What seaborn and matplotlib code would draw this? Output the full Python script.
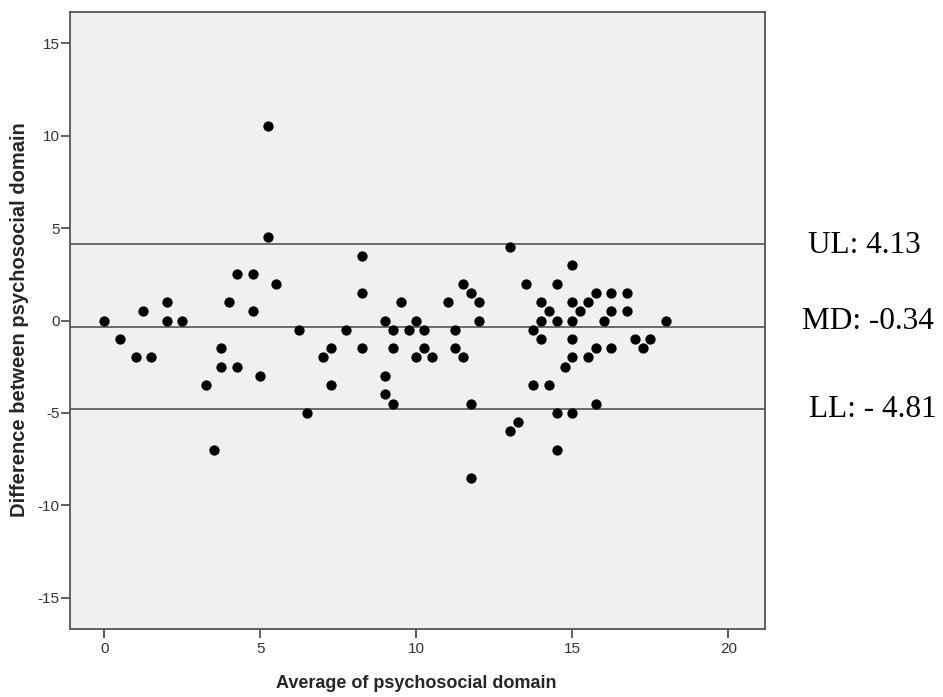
import matplotlib
matplotlib.use("Agg")
import matplotlib.pyplot as plt
import seaborn as sns
import pandas as pd

# Bland-Altman data: average vs difference of psychosocial domain
avg = [0, 0.5, 1, 1.25, 1.5, 2, 2, 2.5, 3.25, 3.5, 3.75, 3.75, 4, 4.25, 4.25,
       4.75, 4.75, 5, 5.25, 5.25, 5.5, 6.25, 6.5, 7, 7.25, 7.25, 7.75, 8.25,
       8.25, 8.25, 9, 9, 9, 9.25, 9.25, 9.25, 9.5, 9.75, 10, 10, 10.25, 10.25,
       10.5, 11, 11.25, 11.25, 11.5, 11.5, 11.75, 11.75, 11.75, 12, 12, 13, 13,
       13.25, 13.5, 13.75, 13.75, 14, 14, 14, 14.25, 14.25, 14.5, 14.5, 14.5,
       14.5, 14.75, 15, 15, 15, 15, 15, 15, 15.25, 15.5, 15.5, 15.75, 15.75,
       15.75, 16, 16.25, 16.25, 16.25, 16.75, 16.75, 17, 17.25, 17.5, 18]
diff = [0, -1, -2, 0.5, -2, 1, 0, 0, -3.5, -7, -1.5, -2.5, 1, 2.5, -2.5,
        2.5, 0.5, -3, 10.5, 4.5, 2, -0.5, -5, -2, -1.5, -3.5, -0.5, 3.5,
        1.5, -1.5, 0, -3, -4, -0.5, -1.5, -4.5, 1, -0.5, 0, -2, -0.5, -1.5,
        -2, 1, -0.5, -1.5, 2, -2, 1.5, -4.5, -8.5, 1, 0, 4, -6,
        -5.5, 2, -0.5, -3.5, 1, 0, -1, 0.5, -3.5, 2, 0, -5,
        -7, -2.5, 3, 1, 0, -1, -2, -5, 0.5, 1, -2, 1.5, -1.5,
        -4.5, 0, 1.5, 0.5, -1.5, 1.5, 0.5, -1, -1.5, -1, 0]

limit_values = [4.13, -0.34, -4.81]
limit_labels = ["UL: 4.13", "MD: -0.34", "LL: - 4.81"]
x_ticks = [0, 5, 10, 15, 20]
y_ticks = [-15, -10, -5, 0, 5, 10, 15]

df = pd.DataFrame({"avg": avg, "diff": diff})

sns.set_style("ticks")
plt.rcParams['font.family'] = ['Liberation Sans Narrow', 'Liberation Sans', 'DejaVu Sans']
plt.rcParams['axes.unicode_minus'] = False

fig = plt.figure(figsize=(9.43, 6.97), dpi=100)
# axes box: x 70..765 px, y 12..629 px
ax = fig.add_axes([70 / 943, 68 / 697, 695 / 943, 617 / 697])
ax.set_facecolor("#f0f0f0")

sns.scatterplot(data=df, x="avg", y="diff", color="black", s=55,
                edgecolor="black", linewidth=0, ax=ax, zorder=3)

for v in limit_values:
    ax.axhline(v, color="#606060", linewidth=1.3, zorder=2)

ax.set_xlim(-1.1, 21.17)
ax.set_ylim(-16.68, 16.68)
ax.set_xticks(x_ticks)
ax.set_yticks(y_ticks)
ax.tick_params(axis="both", length=6.5, width=1.2, color="#444444",
               labelsize=11, labelcolor="#333333", pad=1)
ax.tick_params(axis="x", pad=3)

for side in ["left", "right", "top", "bottom"]:
    ax.spines[side].set_visible(True)
    ax.spines[side].set_color("#555555")
    ax.spines[side].set_linewidth(1.3)

ax.set_xlabel("Average of psychosocial domain", fontsize=13, fontweight="bold",
              family=["Liberation Sans Narrow", "Liberation Sans"])
ax.set_ylabel("Difference between psychosocial domain", fontsize=14.5, fontweight="bold",
              family="Liberation Sans")
ax.xaxis.set_label_coords((416 - 70) / 695, -(684 - 629) / 617)
ax.xaxis.label.set_va("center")
ax.yaxis.set_label_coords(-(70 - 19.5) / 695, (629 - 320) / 617)
ax.yaxis.label.set_va("center")

# limit annotations to the right of the plot
ys = [253, 329, 417]
xs = [808, 802, 809]
for lab, xp, yp in zip(limit_labels, xs, ys):
    fig.text(xp / 943, 1 - yp / 697, lab, fontsize=22.5, family="Liberation Serif",
             ha="left", va="baseline", color="black")

fig.savefig("out.png", dpi=100)
